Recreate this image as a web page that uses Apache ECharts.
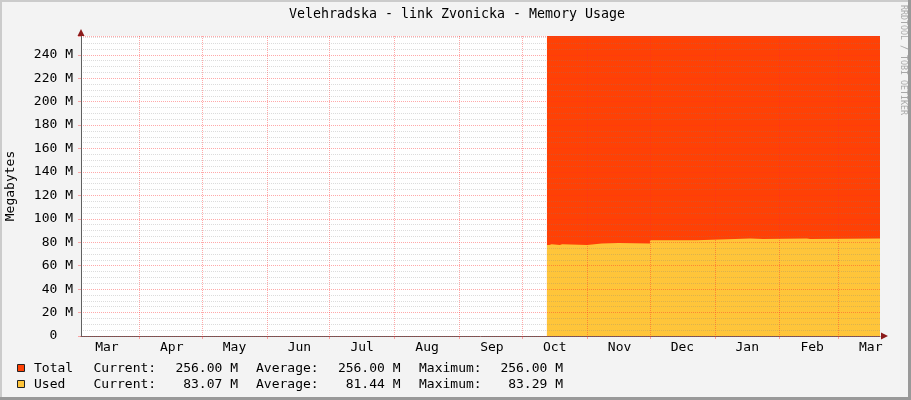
<!DOCTYPE html>
<html><head><meta charset="utf-8">
<script src="https://cdn.jsdelivr.net/npm/echarts@6/dist/echarts.min.js"></script>
<style>html,body{margin:0;padding:0;background:#f3f3f3;overflow:hidden}#c{width:911px;height:400px}</style>
</head><body><div id="c"></div>
<script>
const chartTitle = 'Velehradska - link Zvonicka - Memory Usage';
const yAxisTitle = 'Megabytes';
const watermark = 'RRDTOOL / TOBI OETIKER';
const xRange = ['2010-03-04T03:20:00Z', '2011-03-20T22:20:00Z'];
const monthStarts = ['2010-04-01','2010-05-01','2010-06-01','2010-07-01','2010-08-01','2010-09-01',
  '2010-10-01','2010-11-01','2010-12-01','2011-01-01','2011-02-01','2011-03-01'];
const monthLabelDates = ['2010-03-16T12:00:00Z','2010-04-16T12:00:00Z','2010-05-16T12:00:00Z','2010-06-16T12:00:00Z',
  '2010-07-16T12:00:00Z','2010-08-16T12:00:00Z','2010-09-16T12:00:00Z','2010-10-16T12:00:00Z',
  '2010-11-16T12:00:00Z','2010-12-16T12:00:00Z','2011-01-16T12:00:00Z','2011-02-16T12:00:00Z','2011-03-16T12:00:00Z'];
const monthNames = ['Jan','Feb','Mar','Apr','May','Jun','Jul','Aug','Sep','Oct','Nov','Dec'];
const yTicks = [0,20,40,60,80,100,120,140,160,180,200,220,240];
const yMax = 256;
const yInterval = 20;
const yMinorSplit = 4;

const totalDates = ['2010-10-12T19:00:00Z', '2011-03-20T22:20:00Z'];
const totalValues = [256, 256];
const usedDates = ['2010-10-12T19:00:00Z','2010-10-14T00:00:00Z','2010-10-15T00:00:00Z','2010-10-19T00:00:00Z',
  '2010-10-20T00:00:00Z','2010-11-01T00:00:00Z','2010-11-08T00:00:00Z','2010-11-16T00:00:00Z',
  '2010-12-01T00:00:00Z','2010-12-23T00:00:00Z','2011-01-18T00:00:00Z','2011-01-24T00:00:00Z',
  '2011-02-14T00:00:00Z','2011-02-15T12:00:00Z','2011-03-20T22:20:00Z'];
const usedValues = [77.6, 78.2, 77.6, 78.2, 77.6, 78.9, 79.4, 78.9, 81.7, 83.1, 82.8, 83.1, 82.8, 83.1, 83.07];

const legendNames = ['Total', 'Used'];
const legendColors = ['#ff4105', '#ffc53a'];
const legendCurrent = ['256.00 M', '83.07 M'];
const legendAverage = ['256.00 M', '81.44 M'];
const legendMaximum = ['256.00 M', '83.29 M'];

const FONT = 'DejaVu Sans Mono';
const t = s => Date.parse(s);
const toPairs = (d, v) => d.map((x, i) => [t(x), v[i]]);

const chart = echarts.init(document.getElementById('c'), null, {renderer: 'canvas'});

const graphics = [];
// frame
graphics.push({type:'rect', shape:{x:0,y:0,width:911,height:2}, style:{fill:'#cbcbcb'}, z:10});
graphics.push({type:'rect', shape:{x:0,y:0,width:2,height:400}, style:{fill:'#cbcbcb'}, z:10});
graphics.push({type:'rect', shape:{x:908,y:0,width:3,height:400}, style:{fill:'#999999'}, z:10});
graphics.push({type:'rect', shape:{x:0,y:397,width:911,height:3}, style:{fill:'#999999'}, z:10});
// title
graphics.push({type:'text', x:457, y:15, style:{text:chartTitle, font:'13.3px "'+FONT+'"', fill:'#000', align:'center', verticalAlign:'middle'}});
// y name
graphics.push({type:'text', x:11, y:186, rotation:Math.PI/2, style:{text:yAxisTitle, font:'13px "'+FONT+'"', fill:'#000', align:'center', verticalAlign:'middle'}});
// watermark
graphics.push({type:'text', x:903, y:5, rotation:-Math.PI/2, style:{text:watermark, font:'8.3px "'+FONT+'"', fill:'#a8a8a8', align:'left', verticalAlign:'middle'}});
// axis arrows
graphics.push({type:'polygon', shape:{points:[[81,29],[77.5,36],[84.5,36]]}, style:{fill:'#8b1a1a'}, z:20});
graphics.push({type:'polygon', shape:{points:[[888,336],[881,332.5],[881,339.5]]}, style:{fill:'#8b1a1a'}, z:20});
// legend
const rowsY = [368.5, 384.5];
legendNames.forEach((n, i) => {
  const y = rowsY[i];
  const f = '13px "'+FONT+'"';
  graphics.push({type:'rect', shape:{x:17.5,y:y-4,width:7,height:7}, style:{fill:legendColors[i], stroke:'#222', lineWidth:1}});
  graphics.push({type:'text', x:34, y:y, style:{text:n, font:f, fill:'#000', verticalAlign:'middle'}});
  graphics.push({type:'text', x:93.5, y:y, style:{text:'Current:', font:f, fill:'#000', verticalAlign:'middle'}});
  graphics.push({type:'text', x:238, y:y, style:{text:legendCurrent[i], font:f, fill:'#000', align:'right', verticalAlign:'middle'}});
  graphics.push({type:'text', x:256, y:y, style:{text:'Average:', font:f, fill:'#000', verticalAlign:'middle'}});
  graphics.push({type:'text', x:400.5, y:y, style:{text:legendAverage[i], font:f, fill:'#000', align:'right', verticalAlign:'middle'}});
  graphics.push({type:'text', x:419, y:y, style:{text:'Maximum:', font:f, fill:'#000', verticalAlign:'middle'}});
  graphics.push({type:'text', x:563, y:y, style:{text:legendMaximum[i], font:f, fill:'#000', align:'right', verticalAlign:'middle'}});
});

const majorColor = 'rgba(255,40,40,0.4)';
const minorColor = 'rgba(130,130,130,0.28)';

chart.setOption({
  animation: false,
  backgroundColor: '#f3f3f3',
  grid: {left: 81, right: 31, top: 36, bottom: 64, show: true, backgroundColor: '#ffffff', borderWidth: 0},
  xAxis: [{
    type: 'value', min: t(xRange[0]), max: t(xRange[1]), z: 3,
    axisLine: {show: true, onZero: false, lineStyle: {color: '#606060', width: 1}},
    axisTick: {show: true, length: 3, customValues: monthStarts.map(t), lineStyle: {color: majorColor}},
    axisLabel: {customValues: monthLabelDates.map(t), margin: 5, color: '#000', fontFamily: FONT, fontSize: 13,
      formatter: v => monthNames[new Date(v).getUTCMonth()]},
    splitLine: {show: true, lineStyle: {color: majorColor, type: [1, 1], width: 1}}
  }],
  yAxis: [{
    type: 'value', min: 0, max: yMax, interval: yInterval, z: 4,
    axisLine: {show: true, onZero: false, lineStyle: {color: '#606060', width: 1}},
    axisTick: {show: true, length: 3, lineStyle: {color: majorColor}},
    axisLabel: {customValues: yTicks, margin: 8, color: '#000', fontFamily: FONT, fontSize: 13,
      formatter: v => v === 0 ? '0  ' : v + ' M'},
    splitLine: {show: true, lineStyle: {color: majorColor, type: [1, 1], width: 1}},
    minorTick: {show: false, splitNumber: yMinorSplit},
    minorSplitLine: {show: true, lineStyle: {color: minorColor, type: [1, 1], width: 1}}
  }],
  series: [{
    name: legendNames[0], type: 'line', step: 'end', z: 1, symbol: 'none', silent: true,
    data: toPairs(totalDates, totalValues),
    lineStyle: {width: 0}, areaStyle: {color: legendColors[0], opacity: 1}
  }, {
    name: legendNames[1], type: 'line', step: 'end', z: 1, symbol: 'none', silent: true,
    data: toPairs(usedDates, usedValues),
    lineStyle: {width: 0}, areaStyle: {color: legendColors[1], opacity: 1}
  }],
  graphic: graphics
});
</script></body></html>
